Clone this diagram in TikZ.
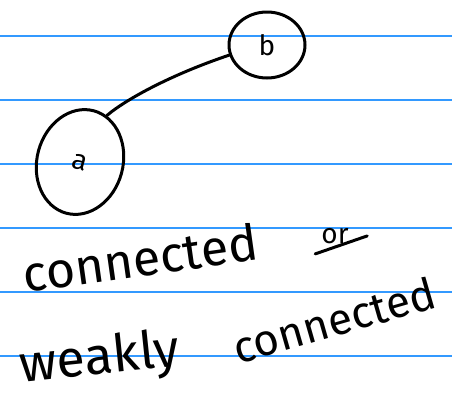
\documentclass[tikz,border=0pt]{standalone}
\usepackage{fontspec}
\setmainfont{Fira Sans}
\usetikzlibrary{shapes.geometric}
\tikzset{
  ruleline/.style={draw={rgb,255:red,51;green,153;blue,255}, line width=1.3pt},
  vertex/.style={ellipse, draw=black, line width=3pt, inner sep=0pt, font=\fontsize{28}{28}\selectfont},
  edge/.style={draw=black, line width=3pt, line cap=round},
  hand/.style={inner sep=0pt, text=black}
}
\begin{document}
\begin{tikzpicture}[x=1pt,y=-1pt]
\useasboundingbox (0,0) rectangle (452,410);
\fill[white] (0,0) rectangle (452,410);
\foreach \yy in {36,100,164,228,292,356} \draw[ruleline] (0,\yy) -- (452,\yy);
\node[vertex, minimum width=86pt, minimum height=106pt, rotate=-15] (a) at (80,162) {a};
\node[vertex, minimum width=76pt, minimum height=66pt] (b) at (267,45) {b};
\draw[edge] (a.75) .. controls (125,100) and (170,75) .. (b.195);
\node[hand, font=\fontsize{50}{50}\selectfont, rotate=8] (t1) at (140,258) {connected};
\node[hand, font=\fontsize{28}{28}\selectfont] (t2) at (335,236) {or};
\draw[edge] (t2.south west) ++(-6,10) coordinate (u1) -- ++(52,-18) coordinate (u2);
\node[hand, font=\fontsize{52}{52}\selectfont, rotate=6] (t3) at (100,360) {weakly};
\node[hand, font=\fontsize{44}{44}\selectfont, rotate=16] (t4) at (334,320) {connected};
\end{tikzpicture}
\end{document}
